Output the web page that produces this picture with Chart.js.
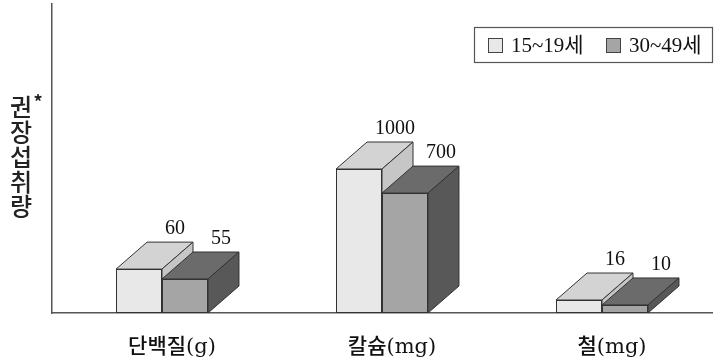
<!DOCTYPE html>
<html>
<head>
<meta charset="utf-8">
<script src="https://cdn.jsdelivr.net/npm/chart.js@4"></script>
<style>
  body { margin: 0; background: #fff; }
</style>
</head>
<body>
<canvas id="myChart" width="715" height="359"></canvas>
<script>
const categories = ['단백질(g)', '칼슘(mg)', '철(mg)'];
const seriesNames = ['15~19세', '30~49세'];
const values15 = [60, 1000, 16];   // numbers printed over the bars
const values30 = [55, 700, 10];
// the source has no y scale: bar heights as drawn, in % of the axis height
const height15 = [14.2, 46.6, 4.2];
const height30 = [11.0, 38.8, 2.6];
const yTitle = ['권', '장', '섭', '취', '량'];

const serif = "'Liberation Serif', 'Noto Sans CJK KR', serif";
const DX = 31, DY = -27;   // depth of the fake 3d boxes

// draws each series again as a box, left series first so the right one sits in front
const box3d = {
  id: 'box3d',
  afterDatasetsDraw(chart) {
    const ctx = chart.ctx;
    ctx.save();
    chart.data.datasets.forEach((ds, i) => {
      chart.getDatasetMeta(i).data.forEach(el => {
        el.draw(ctx);
        const p = el.getProps(['x', 'y', 'base', 'width'], true);
        const l = p.x - p.width / 2, r = p.x + p.width / 2, t = p.y, b = p.base;
        ctx.strokeStyle = '#333';
        ctx.lineWidth = 1;
        ctx.lineJoin = 'round';
        // top face
        ctx.beginPath();
        ctx.moveTo(l, t); ctx.lineTo(l + DX, t + DY); ctx.lineTo(r + DX, t + DY); ctx.lineTo(r, t);
        ctx.closePath();
        ctx.fillStyle = ds.topColor; ctx.fill(); ctx.stroke();
        // side face
        ctx.beginPath();
        ctx.moveTo(r, t); ctx.lineTo(r + DX, t + DY); ctx.lineTo(r + DX, b + DY); ctx.lineTo(r, b);
        ctx.closePath();
        ctx.fillStyle = ds.sideColor; ctx.fill(); ctx.stroke();
      });
    });

    ctx.font = '20px ' + serif;
    ctx.fillStyle = '#111';
    ctx.textAlign = 'center';
    ctx.textBaseline = 'alphabetic';
    chart.data.datasets.forEach((ds, i) => {
      chart.getDatasetMeta(i).data.forEach((el, j) => {
        ctx.fillText(String(ds.values[j]), el.x + DX + 5, el.y + DY - 8);
      });
    });
    ctx.restore();
  },
  afterDraw(chart) {
    const ctx = chart.ctx;
    ctx.save();
    // vertical y title
    ctx.fillStyle = '#222';
    ctx.font = "500 24px 'Noto Sans CJK KR'";
    ctx.textAlign = 'center';
    ctx.textBaseline = 'middle';
    yTitle.forEach((ch, i) => ctx.fillText(ch, 21, 107 + i * 24.8));
    ctx.font = "bold 18px 'Noto Sans CJK KR'";
    ctx.fillText('*', 38, 102);

    // legend
    ctx.strokeStyle = '#555';
    ctx.lineWidth = 1.2;
    ctx.strokeRect(474.5, 27.5, 238, 35);
    ctx.font = '21px ' + serif;
    ctx.textAlign = 'left';
    const xs = [488, 606];
    chart.data.datasets.forEach((ds, i) => {
      ctx.fillStyle = ds.backgroundColor;
      ctx.fillRect(xs[i], 38.5, 14, 14);
      ctx.strokeStyle = '#444';
      ctx.lineWidth = 1;
      ctx.strokeRect(xs[i] + 0.5, 38.5, 14, 14);
      ctx.fillStyle = '#111';
      ctx.fillText(ds.label, xs[i] + 23, 46);
    });
    ctx.restore();
  }
};

const ctx = document.getElementById('myChart').getContext('2d');
const chart = new Chart(ctx, {
  type: 'bar',
  data: {
    labels: categories,
    datasets: [{
      label: seriesNames[0],
      data: height15,
      values: values15,
      backgroundColor: '#e8e8e8',
      topColor: '#d3d3d3',
      sideColor: '#c6c6c6',
      borderColor: '#333',
      borderWidth: 1,
      borderSkipped: false
    }, {
      label: seriesNames[1],
      data: height30,
      values: values30,
      backgroundColor: '#a5a5a5',
      topColor: '#6b6b6b',
      sideColor: '#585858',
      borderColor: '#333',
      borderWidth: 1,
      borderSkipped: false
    }]
  },
  options: {
    responsive: false,
    devicePixelRatio: 1,
    animation: false,
    layout: { padding: { top: 4, right: 3, left: 0, bottom: 0 } },
    datasets: { bar: { categoryPercentage: 0.418, barPercentage: 1 } },
    plugins: { legend: { display: false }, tooltip: { enabled: false } },
    scales: {
      x: {
        grid: { display: false },
        border: { color: '#555', width: 1.5 },
        ticks: {
          padding: 14,
          labelOffset: 10,
          color: '#111',
          font: { family: "'DejaVu Serif', 'Noto Sans CJK KR', serif", size: 21, weight: 500 }
        },
        afterFit: s => { s.height = 46; }
      },
      y: {
        min: 0,
        max: 100,
        grid: { display: false },
        border: { color: '#555', width: 1.5 },
        ticks: { display: false },
        afterFit: s => { s.width = 52; }
      }
    }
  },
  plugins: [box3d]
});
</script>
</body>
</html>
